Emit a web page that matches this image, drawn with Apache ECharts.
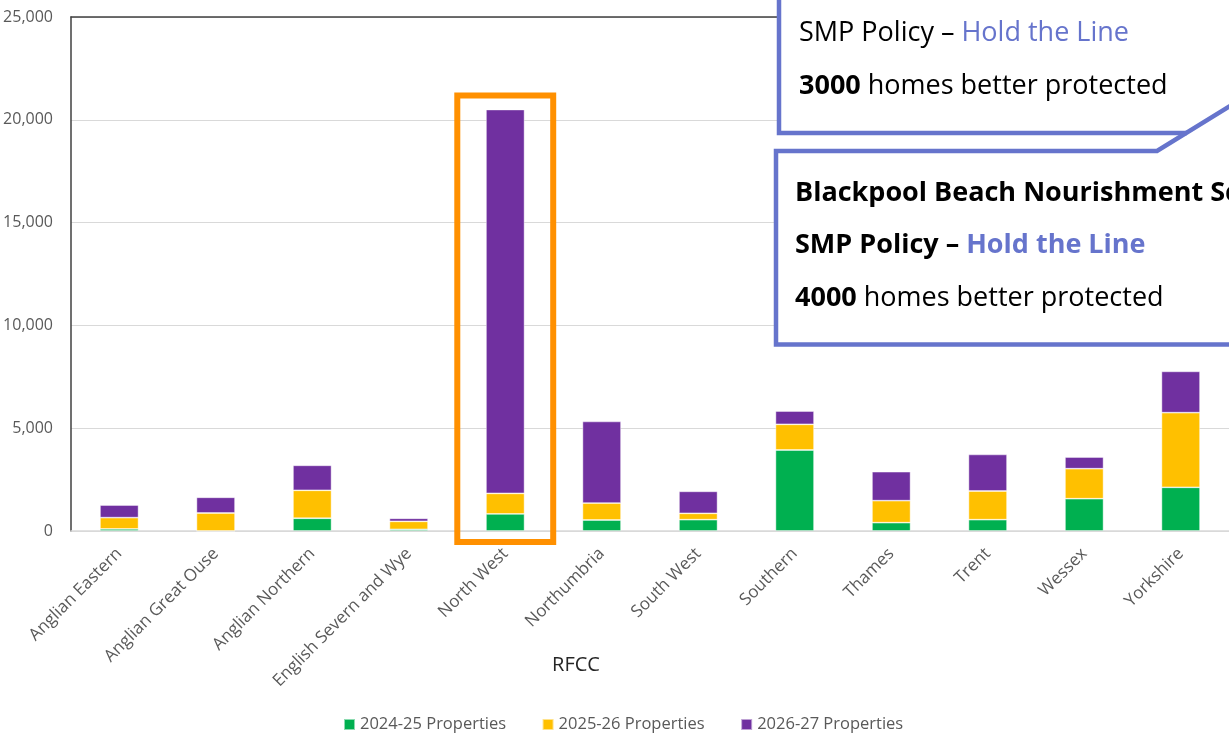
<!DOCTYPE html>
<html>
<head>
<meta charset="utf-8">
<script src="https://cdn.jsdelivr.net/npm/echarts@6/dist/echarts.min.js"></script>
<style>
  html, body { margin: 0; padding: 0; background: #fff; }
  #chart { width: 1229px; height: 735px; }
</style>
</head>
<body>
<div id="chart"></div>
<script>
const categories = ['Anglian Eastern', 'Anglian Great Ouse', 'Anglian Northern', 'English Severn and Wye', 'North West', 'Northumbria', 'South West', 'Southern', 'Thames', 'Trent', 'Wessex', 'Yorkshire'];
const props2425 = [100, 0, 620, 80, 830, 535, 550, 3940, 405, 550, 1570, 2125];
const props2526 = [550, 875, 1360, 390, 1000, 825, 310, 1250, 1070, 1395, 1460, 3630];
const props2627 = [615, 765, 1215, 150, 18670, 3970, 1070, 645, 1410, 1780, 570, 2010];
const seriesNames = ['2024-25 Properties', '2025-26 Properties', '2026-27 Properties'];
const seriesColors = ['#00B050', '#FFC000', '#7030A0'];
const yTicks = { min: 0, max: 25000, interval: 5000 };
const highlightCategory = 'North West';

const FONT = 'Open Sans';
const BLUE = '#6674CC';
const BOX_FS = 27;

const chart = echarts.init(document.getElementById('chart'), null, { renderer: 'canvas' });

const seriesData = [props2425, props2526, props2627];
const option = {
  animation: false,
  textStyle: { fontFamily: FONT },
  grid: { left: 71, right: 0, top: 17, bottom: 204, containLabel: false },
  legend: {
    data: seriesNames,
    left: 343, top: 716, padding: 0,
    itemWidth: 11, itemHeight: 11, itemGap: 35.5, icon: 'rect',
    textStyle: { fontFamily: FONT, fontSize: 16.5, color: '#595959' }
  },
  xAxis: [{
    type: 'category',
    data: categories,
    axisLine: { show: true, lineStyle: { color: '#d9d9d9', width: 1.5 } },
    axisTick: { show: false },
    axisLabel: { rotate: 45, margin: 20, fontFamily: FONT, fontSize: 17, color: '#595959', interval: 0 }
  }, {
    type: 'category',
    position: 'top',
    data: categories,
    axisLine: { show: true, lineStyle: { color: '#404040', width: 1.5 } },
    axisTick: { show: false },
    axisLabel: { show: false }
  }],
  yAxis: {
    type: 'value',
    min: yTicks.min, max: yTicks.max, interval: yTicks.interval,
    axisLine: { show: true, lineStyle: { color: '#404040', width: 1.5 } },
    axisTick: { show: false },
    splitLine: { lineStyle: { color: '#d9d9d9', width: 1.2 } },
    axisLabel: {
      margin: 18, fontFamily: FONT, fontSize: 16, color: '#595959',
      formatter: v => v.toLocaleString('en-US')
    }
  },
  series: seriesNames.map((name, i) => ({
    name,
    type: 'bar',
    stack: 'total',
    barWidth: '40%',
    data: seriesData[i],
    itemStyle: { color: seriesColors[i], borderColor: 'rgba(255,255,255,0.55)', borderWidth: 0.8 }
  }))
};
chart.setOption(option);

// Annotation overlays
const idx = categories.indexOf(highlightCategory);
const total = props2425[idx] + props2526[idx] + props2627[idx];
const c0 = chart.convertToPixel({ xAxisIndex: 0 }, categories[idx]);
const c1 = chart.convertToPixel({ xAxisIndex: 0 }, categories[idx + 1]);
const band = c1 - c0;
const yTop = chart.convertToPixel({ yAxisIndex: 0 }, total);
const yZero = chart.convertToPixel({ yAxisIndex: 0 }, 0);
const half = band * 0.497;

const slope = 0.615;
const tailStartX = 1157, box2Top = 151;
const tailEndX = 1250;
const tailEndY = box2Top - slope * (tailEndX - tailStartX);

chart.setOption({
  graphic: [
    {
      type: 'rect', z: 100,
      shape: { x: c0 - half, y: yTop - 14, width: half * 2, height: (yZero + 11) - (yTop - 14) },
      style: { fill: 'none', stroke: '#FF9000', lineWidth: 6 }
    },
    // Box 1
    {
      type: 'rect', z: 101,
      shape: { x: 779, y: -10, width: 500, height: 143 },
      style: { fill: '#fff', stroke: null }
    },
    {
      type: 'polyline', z: 102,
      shape: { points: [[779, -10], [779, 133], [1187, 133]] },
      style: { stroke: BLUE, lineWidth: 4.5, fill: null }
    },
    {
      type: 'text', z: 103, x: 799, y: 33,
      style: {
        text: '{n|SMP Policy – }{h|Hold the Line}',
        verticalAlign: 'middle', align: 'left',
        rich: {
          n: { fontFamily: FONT, fontSize: BOX_FS, fill: '#000' },
          h: { fontFamily: FONT, fontSize: BOX_FS, fill: BLUE }
        }
      }
    },
    {
      type: 'text', z: 103, x: 799, y: 86,
      style: {
        text: '{b|3000}{n| homes better protected}',
        verticalAlign: 'middle', align: 'left',
        rich: {
          b: { fontFamily: FONT, fontSize: BOX_FS, fontWeight: 'bold', fill: '#000' },
          n: { fontFamily: FONT, fontSize: BOX_FS, fill: '#000' }
        }
      }
    },
    // Box 2
    {
      type: 'rect', z: 104,
      shape: { x: 776, y: box2Top, width: 500, height: 344.5 - box2Top },
      style: { fill: '#fff', stroke: null }
    },
    {
      type: 'polyline', z: 105,
      shape: { points: [[tailEndX, tailEndY], [tailStartX, box2Top], [776, box2Top], [776, 344.5], [1260, 344.5]] },
      style: { stroke: BLUE, lineWidth: 4.5, fill: null }
    },
    {
      type: 'text', z: 106, x: 795, y: 193,
      style: {
        text: 'Blackpool Beach Nourishment Scheme',
        verticalAlign: 'middle', align: 'left',
        fontFamily: FONT, fontSize: BOX_FS, fontWeight: 'bold', fill: '#000'
      }
    },
    {
      type: 'text', z: 106, x: 795, y: 245,
      style: {
        text: '{n|SMP Policy – }{h|Hold the Line}',
        verticalAlign: 'middle', align: 'left',
        rich: {
          n: { fontFamily: FONT, fontSize: BOX_FS, fontWeight: 'bold', fill: '#000' },
          h: { fontFamily: FONT, fontSize: BOX_FS, fontWeight: 'bold', fill: BLUE }
        }
      }
    },
    {
      type: 'text', z: 106, x: 795, y: 298,
      style: {
        text: '{b|4000}{n| homes better protected}',
        verticalAlign: 'middle', align: 'left',
        rich: {
          b: { fontFamily: FONT, fontSize: BOX_FS, fontWeight: 'bold', fill: '#000' },
          n: { fontFamily: FONT, fontSize: BOX_FS, fill: '#000' }
        }
      }
    },
    // Axis title
    {
      type: 'text', z: 50, x: 576, y: 665,
      style: { text: 'RFCC', align: 'center', verticalAlign: 'middle', fontFamily: FONT, fontSize: 20, fill: '#262626' }
    }
  ]
});
</script>
</body>
</html>
